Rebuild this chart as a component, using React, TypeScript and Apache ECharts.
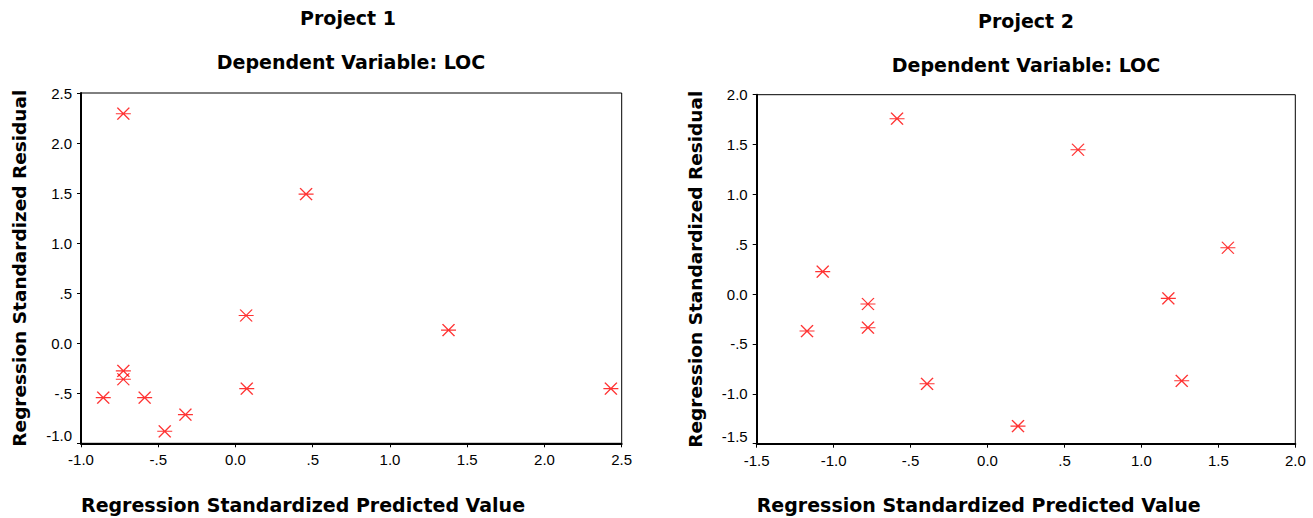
import React, { useEffect, useRef } from "react";
import * as echarts from "echarts";

// Project 1 (Dependent Variable: LOC)
const p1Predicted = [-0.726, 0.457, 0.069, -0.726, -0.726, -0.856, -0.588, -0.458, -0.324, 0.073, 1.379, 2.43];
const p1Residual = [2.293, 1.49, 0.277, -0.277, -0.36, -0.543, -0.543, -0.88, -0.713, -0.453, 0.13, -0.453];

// Project 2 (Dependent Variable: LOC)
const p2Predicted = [-0.588, -1.071, -0.777, -0.777, -1.173, -0.393, 0.588, 1.562, 1.175, 1.262, 0.198];
const p2Residual = [1.759, 0.225, -0.099, -0.337, -0.37, -0.899, 1.448, 0.465, -0.042, -0.869, -1.323];

const p1XRange = [-1.0, 2.5];
const p1YRange = [-1.0, 2.5];
const p2XRange = [-1.5, 2.0];
const p2YRange = [-1.5, 2.0];

const titles1 = ["Project 1", "Dependent Variable: LOC"];
const titles2 = ["Project 2", "Dependent Variable: LOC"];
const xTitle = "Regression Standardized Predicted Value";
const yTitle = "Regression Standardized Residual";

const TICK_FONT = "Liberation Sans, Arial, sans-serif";
const BOLD_FONT = "DejaVu Sans, sans-serif";

const fmt = (v: number) => {
  const r = Math.round(v * 10) / 10;
  if (Math.abs(r) === 0.5) return (r < 0 ? "-" : "") + ".5";
  return (r === 0 ? 0 : r).toFixed(1);
};

const ASTERISK = "path://M0,6 L15,6 M1.5,0 L13.5,12 M13.5,0 L1.5,12";

function makeX(gridIndex: number, range: number[]) {
  return {
    type: "value",
    gridIndex,
    min: range[0],
    max: range[1],
    interval: 0.5,
    name: xTitle,
    nameLocation: "start",
    nameGap: 0,
    nameTextStyle: {
      align: "left",
      verticalAlign: "top",
      padding: [52, 0, 0, 0],
      fontFamily: BOLD_FONT,
      fontWeight: "bold",
      fontSize: 19,
      color: "#000",
    },
    axisLine: { onZero: false, lineStyle: { color: "#000", width: 2 } },
    axisTick: { show: true, length: 4, lineStyle: { color: "#000", width: 1 } },
    axisLabel: { formatter: fmt, margin: 9, fontSize: 15, fontFamily: TICK_FONT, color: "#000" },
    splitLine: { show: false },
  };
}

function makeY(gridIndex: number, range: number[], lift: number) {
  return {
    type: "value",
    gridIndex,
    min: range[0],
    max: range[1],
    interval: 0.5,
    name: yTitle,
    nameLocation: "middle",
    nameGap: 52,
    nameTextStyle: {
      fontFamily: BOLD_FONT,
      fontWeight: "bold",
      fontSize: 18.5,
      color: "#000",
    },
    axisLine: { onZero: false, lineStyle: { color: "#000", width: 2 } },
    axisTick: { show: true, length: 4, lineStyle: { color: "#000", width: 1 } },
    axisLabel: {
      formatter: (v: number) => (Math.abs(v - range[0]) < 1e-9 ? `{lo|${fmt(v)}}` : fmt(v)),
      margin: 9,
      fontSize: 15,
      fontFamily: TICK_FONT,
      color: "#000",
      rich: {
        lo: { padding: [0, 0, lift, 0], fontSize: 15, fontFamily: TICK_FONT, color: "#000" },
      },
    },
    splitLine: { show: false },
  };
}

function titleText(text: string, x: number, y: number) {
  return {
    type: "text",
    x,
    y,
    style: {
      text,
      font: `bold 19px ${BOLD_FONT}`,
      fill: "#000",
      textAlign: "center",
      textVerticalAlign: "middle",
      align: "center",
      verticalAlign: "middle",
    },
  };
}

export default function App() {
  const ref = useRef<HTMLDivElement>(null);
  useEffect(() => {
    if (!ref.current) return;
    const chart = echarts.init(ref.current, null, { renderer: "svg" });
    const scatterStyle = {
      color: "rgba(0,0,0,0)",
      borderColor: "#ff0000",
      borderWidth: 1.3,
    };
    chart.setOption({
      animation: false,
      backgroundColor: "#fff",
      grid: [
        { left: 81, top: 93, width: 540.7, height: 350.3, show: true, borderColor: "#000", borderWidth: 1, backgroundColor: "transparent" },
        { left: 756.7, top: 94.7, width: 538.6, height: 349, show: true, borderColor: "#000", borderWidth: 1, backgroundColor: "transparent" },
      ],
      xAxis: [makeX(0, p1XRange), makeX(1, p2XRange)],
      yAxis: [makeY(0, p1YRange, 16), makeY(1, p2YRange, 14)],
      series: [
        {
          type: "scatter",
          xAxisIndex: 0,
          yAxisIndex: 0,
          symbol: ASTERISK,
          symbolSize: [15, 12],
          itemStyle: scatterStyle,
          data: p1Predicted.map((x, i) => [x, p1Residual[i]]),
        },
        {
          type: "scatter",
          xAxisIndex: 1,
          yAxisIndex: 1,
          symbol: ASTERISK,
          symbolSize: [15, 12],
          itemStyle: scatterStyle,
          data: p2Predicted.map((x, i) => [x, p2Residual[i]]),
        },
      ],
      graphic: [
        titleText(titles1[0], 348, 18),
        titleText(titles1[1], 351, 62),
        titleText(titles2[0], 1026, 21),
        titleText(titles2[1], 1026, 65),
      ],
    });
    return () => chart.dispose();
  }, []);
  return (
    <div
      ref={ref}
      style={{ position: "absolute", left: 0, top: 0, width: 1313, height: 518 }}
    />
  );
}
